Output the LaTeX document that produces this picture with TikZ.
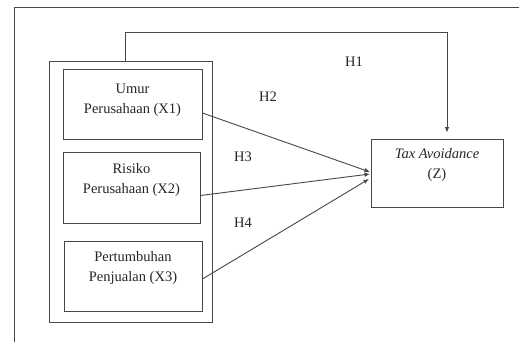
\documentclass[tikz,border=0pt]{standalone}
\usepackage{fontspec}
\setmainfont{Liberation Serif}
\usetikzlibrary{arrows.meta}
\begin{document}
\begin{tikzpicture}[x=1pt,y=-1pt,
  ln/.style={draw=black!72,line width=0.9pt},
  boxn/.style={ln,rectangle,inner sep=0pt},
  lbl/.style={font=\fontsize{14.5}{20}\selectfont,align=center,inner sep=0pt,text=black!85},
  arr/.style={ln,-{Latex[length=5.5pt,width=4.5pt]}}]
\useasboundingbox (0,0) rectangle (519,342);
\fill[white] (0,0) rectangle (519,342);
% outer frame
\coordinate (fa) at (14,342);
\coordinate (fb) at (14,7);
\coordinate (fc) at (519,7);
\draw[ln] (fa) -- (fb) -- (fc);
% group box
\node[boxn,minimum width=163pt,minimum height=261pt] (grp) at (130.5,191.5) {};
% independent variables
\node[boxn,minimum width=139pt,minimum height=70pt] (x1) at (132.5,104) {};
\node[lbl] (t1) at (132.5,100) {Umur\\Perusahaan (X1)};
\node[boxn,minimum width=137pt,minimum height=71pt] (x2) at (131.5,187.5) {};
\node[lbl] (t2) at (131.5,180) {Risiko\\Perusahaan (X2)};
\node[boxn,minimum width=138pt,minimum height=70pt] (x3) at (133,276) {};
\node[lbl] (t3) at (133,268) {Pertumbuhan\\Penjualan (X3)};
% dependent
\node[boxn,minimum width=132pt,minimum height=68pt] (z) at (437,173) {};
\node[lbl] (tz) at (437,165) {\textit{Tax Avoidance}\\(Z)};
% arrows
\coordinate (tgt) at (370,172);
\coordinate (tgt3) at (369,179);
\draw[arr] ([yshift=-9pt]x1.east) -- (tgt);
\draw[arr] ([yshift=-8pt]x2.east) -- ([yshift=-2pt]tgt);
\draw[arr] ([yshift=-3pt]x3.east) -- (tgt3);
\coordinate (h1c) at (447,32);
\draw[arr,shorten >=6pt] ([xshift=-5.5pt]grp.north) |- (h1c) -- (h1c |- z.north);
% hypothesis labels
\node[lbl] (h1) at (354,62) {H1};
\node[lbl] (h2) at (268,97) {H2};
\node[lbl] (h3) at (243,157) {H3};
\node[lbl] (h4) at (243,223) {H4};
\end{tikzpicture}
\end{document}
